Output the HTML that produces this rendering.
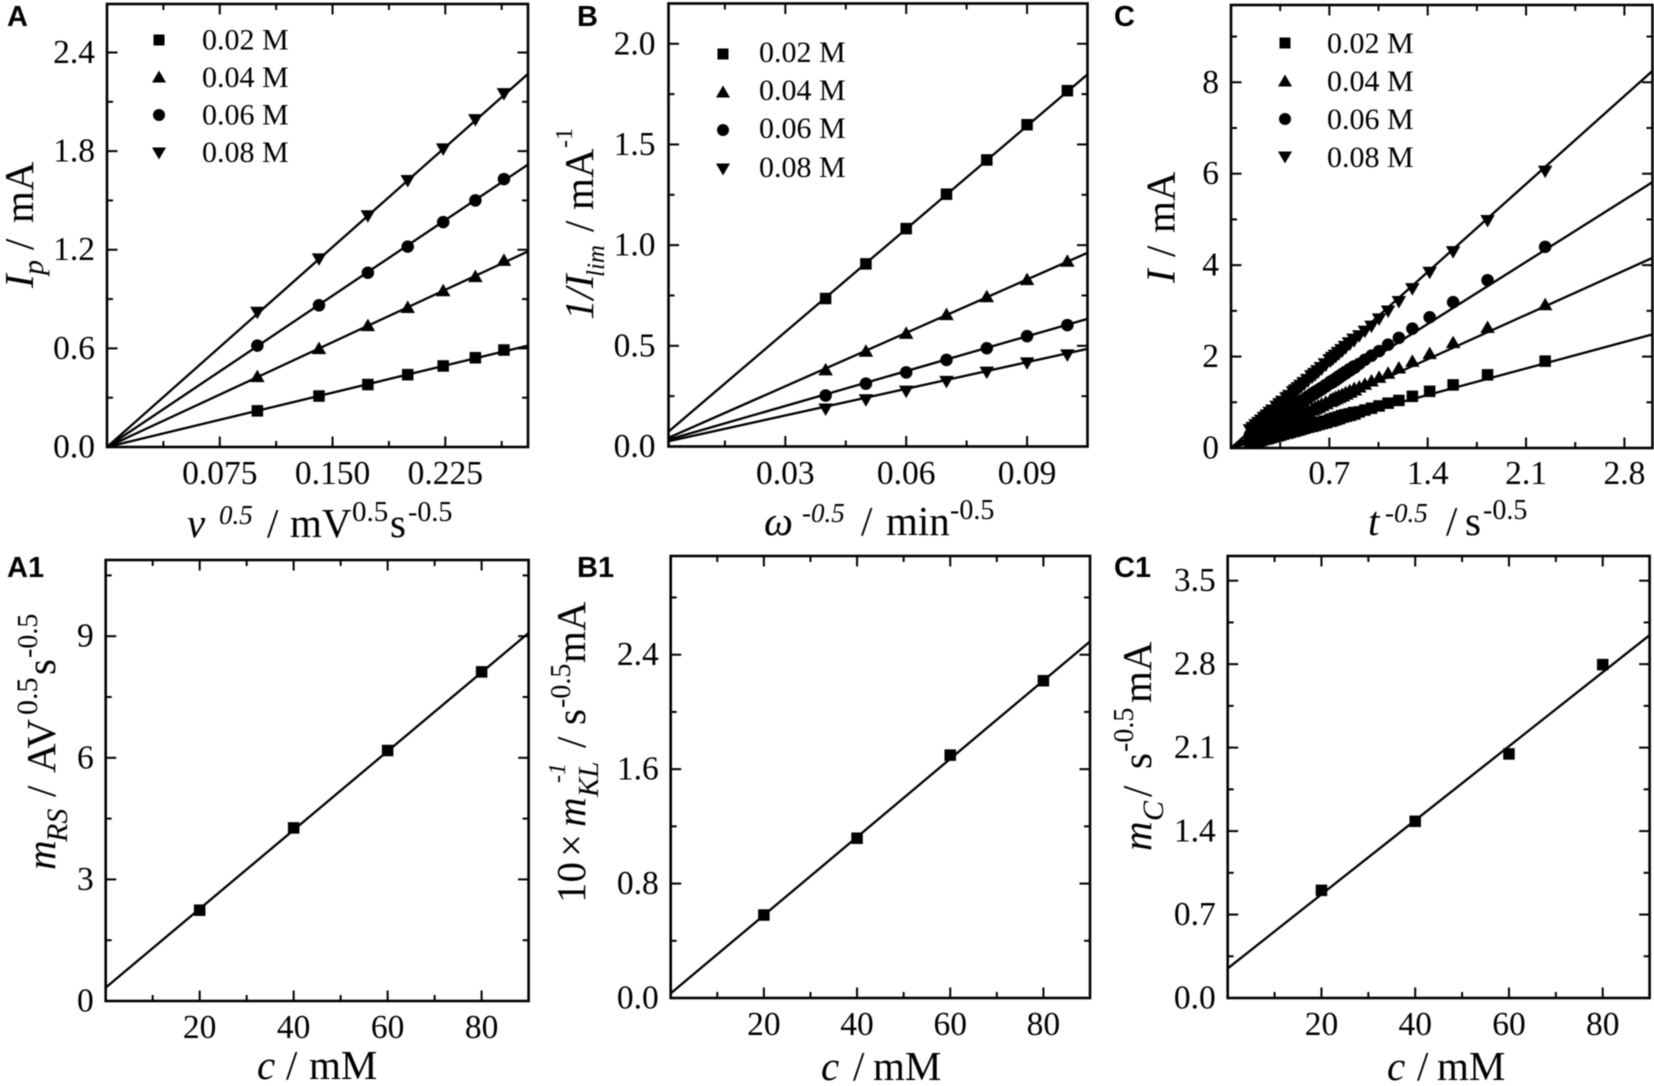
<!DOCTYPE html>
<html lang="en">
<head>
<meta charset="utf-8">
<title>Electrochemical linear fits</title>
<style>
html,body{margin:0;padding:0;background:#fff;width:1654px;height:1086px;overflow:hidden}
svg{display:block;filter:blur(.4px)}
text{font-family:"Liberation Serif",serif;fill:#000;white-space:pre}
.letter{font-family:"Liberation Sans",sans-serif;font-weight:700;font-size:29px}
.leg{font-size:30px}
.ttl{font-size:41px}
.i{font-style:italic}
</style>
</head>
<body>
<svg id="figure" width="1654" height="1086" viewBox="0 0 1654 1086" xmlns="http://www.w3.org/2000/svg">
  <rect width="1654" height="1086" fill="#fff"/>

  <text class="letter" x="7" y="26">A</text>
  <text class="letter" x="577" y="26">B</text>
  <text class="letter" x="1114" y="26">C</text>
  <text class="letter" x="7" y="577">A1</text>
  <text class="letter" x="577" y="577">B1</text>
  <text class="letter" x="1114" y="577">C1</text>

  <g>
    <text class="leg" x="202" y="49.5">0.02 M</text>
    <text class="leg" x="202" y="87">0.04 M</text>
    <text class="leg" x="202" y="124.5">0.06 M</text>
    <text class="leg" x="202" y="162">0.08 M</text>
  </g>
  <g>
    <text class="leg" x="759" y="62">0.02 M</text>
    <text class="leg" x="759" y="100">0.04 M</text>
    <text class="leg" x="759" y="138">0.06 M</text>
    <text class="leg" x="759" y="177">0.08 M</text>
  </g>
  <g>
    <text class="leg" x="1327" y="53">0.02 M</text>
    <text class="leg" x="1327" y="91">0.04 M</text>
    <text class="leg" x="1327" y="129">0.06 M</text>
    <text class="leg" x="1327" y="167">0.08 M</text>
  </g>

  <text class="ttl" y="537"><tspan class="i" x="187">ν</tspan><tspan class="i" font-size="27" x="219" dy="-13">0.5</tspan><tspan x="267" dy="13">/</tspan><tspan x="290">mV</tspan><tspan font-size="29" x="352" dy="-16">0.5</tspan><tspan x="390" dy="16">s</tspan><tspan font-size="28" x="408" dy="-16">-0.5</tspan></text>
  <text class="ttl" y="535"><tspan class="i" x="764">ω</tspan><tspan class="i" font-size="27" x="802" dy="-13">-0.5</tspan><tspan x="861" dy="13">/</tspan><tspan x="886">min</tspan><tspan font-size="28" x="950" dy="-16">-0.5</tspan></text>
  <text class="ttl" y="535"><tspan class="i" x="1368">t</tspan><tspan class="i" font-size="27" x="1385" dy="-13">-0.5</tspan><tspan x="1446" dy="13">/</tspan><tspan x="1465">s</tspan><tspan font-size="28" x="1483" dy="-16">-0.5</tspan></text>
  <text class="ttl" y="1079"><tspan class="i" x="257">c</tspan><tspan x="286">/</tspan><tspan x="309">mM</tspan></text>
  <text class="ttl" y="1080"><tspan class="i" x="821">c</tspan><tspan x="853">/</tspan><tspan x="873">mM</tspan></text>
  <text class="ttl" y="1080"><tspan class="i" x="1387">c</tspan><tspan x="1417">/</tspan><tspan x="1437">mM</tspan></text>

  <text class="ttl" transform="translate(33,288) rotate(-90)"><tspan class="i" x="0">I</tspan><tspan class="i" font-size="30" x="13" dy="10">p</tspan><tspan x="38" dy="-10">/</tspan><tspan x="65">mA</tspan></text>
  <text class="ttl" transform="translate(593,320) rotate(-90)"><tspan class="i" x="0">1/I</tspan><tspan class="i" font-size="25" x="43" dy="11">lim</tspan><tspan x="88" dy="-11">/</tspan><tspan x="110">mA</tspan><tspan font-size="24" x="172" dy="-21">-1</tspan></text>
  <text class="ttl" transform="translate(1174.5,283) rotate(-90)"><tspan class="i" x="0">I</tspan><tspan x="26">/</tspan><tspan x="50">mA</tspan></text>
  <text class="ttl" transform="translate(55,870) rotate(-90)"><tspan class="i" x="0">m</tspan><tspan class="i" font-size="30" x="28" dy="12">RS</tspan><tspan x="73" dy="-12">/</tspan><tspan x="97">AV</tspan><tspan font-size="30" x="155" dy="-18">0.5</tspan><tspan x="195" dy="18">s</tspan><tspan font-size="28" x="212" dy="-18">-0.5</tspan></text>
  <text class="ttl" transform="translate(585,903) rotate(-90)"><tspan x="0">10</tspan><tspan x="46">×</tspan><tspan class="i" x="76">m</tspan><tspan class="i" font-size="29" x="106" dy="13">KL</tspan><tspan class="i" font-size="24" x="120" dy="-33">-1</tspan><tspan x="155" dy="20">/</tspan><tspan x="178">s</tspan><tspan font-size="28" x="195" dy="-15">-0.5</tspan><tspan x="240" dy="15">mA</tspan></text>
  <text class="ttl" transform="translate(1151,851) rotate(-90)"><tspan class="i" x="0">m</tspan><tspan class="i" font-size="30" x="30" dy="12">C</tspan><tspan x="54" dy="-12">/</tspan><tspan x="82">s</tspan><tspan font-size="28" x="99" dy="-18">-0.5</tspan><tspan x="148" dy="18">mA</tspan></text>

  <g id="plots"></g>
</svg>

<script>
// ---- Panel A data ----
const aX = [0.1, 0.141, 0.1735, 0.2, 0.2236, 0.245, 0.264];
const a002 = [0.22, 0.31, 0.38, 0.44, 0.493, 0.543, 0.59];
const a004 = [0.43, 0.60, 0.74, 0.85, 0.952, 1.038, 1.137];
const a006 = [0.617, 0.862, 1.06, 1.219, 1.368, 1.5, 1.63];
const a008 = [0.818, 1.143, 1.405, 1.62, 1.812, 1.99, 2.148];
const aFitStart = [0, 0, 0, 0];
const aFitEnd = [0.617, 1.19, 1.718, 2.27];
const aXTickLabels = ['0.075', '0.150', '0.225'];
const aXMinor = [0.0375, 0.1125, 0.1875, 0.2625];
const aYTickLabels = ['0.0', '0.6', '1.2', '1.8', '2.4'];
const aYMinor = [0.3, 0.9, 1.5, 2.1];

// ---- Panel B data ----
const bX = [0.04, 0.05, 0.06, 0.07, 0.08, 0.09, 0.10];
const b002 = [0.735, 0.907, 1.082, 1.253, 1.423, 1.598, 1.767];
const b004 = [0.382, 0.474, 0.563, 0.656, 0.745, 0.83, 0.921];
const b006 = [0.253, 0.312, 0.368, 0.43, 0.488, 0.548, 0.603];
const b008 = [0.185, 0.231, 0.274, 0.322, 0.368, 0.414, 0.454];
const bFitStart = [0.074, 0.043, 0.034, 0.026];
const bFitEnd = [1.848, 0.962, 0.634, 0.485];
const bXTickLabels = ['0.03', '0.06', '0.09'];
const bXMinor = [0.015, 0.045, 0.075];
const bYTickLabels = ['0.0', '0.5', '1.0', '1.5', '2.0'];
const bYMinor = [0.25, 0.75, 1.25, 1.75];

// ---- Panel C data ----
const cX = [2.236,1.826,1.581,1.414,1.291,1.195,1.118,1.054,1.000,.953,.913,.877,.845,.816,.791,.767,.745,.725,.707,.674,.645,.620,.598,.577,.548,.522,.500,.480,.463,.447,.420,.400,.370,.350,.330,.300,.280,.260,.240,.220,.200,.180,.160,.140];
const c002 = [1.90,1.60,1.38,1.24,1.13,1.04,.98,.92,.87,.83,.79,.76,.73,.71,.69,.66,.64,.62,.60,.57,.55,.53,.51,.49,.47,.45,.43,.41,.40,.38,.36,.34,.32,.30,.28,.26,.24,.22,.21,.19,.17,.15,.14,.12];
const c004 = [3.14,2.64,2.31,2.07,1.90,1.755,1.64,1.55,1.47,1.40,1.34,1.29,1.24,1.20,1.16,1.13,1.10,1.07,1.04,.99,.95,.91,.88,.85,.81,.77,.74,.71,.68,.66,.62,.59,.54,.51,.49,.44,.41,.38,.35,.32,.29,.26,.24,.21];
const c006 = [4.40,3.67,3.19,2.86,2.61,2.41,2.26,2.12,2.02,1.93,1.84,1.77,1.71,1.65,1.60,1.55,1.50,1.46,1.43,1.36,1.30,1.25,1.21,1.17,1.11,1.05,1.01,.97,.94,.90,.85,.81,.75,.71,.67,.61,.57,.53,.48,.44,.40,.36,.32,.28];
const c008 = [6.05,4.97,4.29,3.84,3.48,3.20,2.99,2.82,2.66,2.55,2.45,2.36,2.28,2.20,2.13,2.07,2.01,1.96,1.91,1.82,1.74,1.67,1.61,1.56,1.48,1.41,1.35,1.30,1.25,1.21,1.13,1.08,1.00,.95,.89,.81,.76,.70,.65,.59,.54,.49,.43,.38];
const cFitStart = [0, 0, 0, 0];
const cFitEnd = [2.486, 4.16, 5.815, 8.25];
const cXTickLabels = ['0.7', '1.4', '2.1', '2.8'];
const cXMinor = [0.35, 1.05, 1.75, 2.45];
const cYTickLabels = ['0', '2', '4', '6', '8'];
const cYMinor = [1, 3, 5, 7, 9];

// ---- Lower row data ----
const concentration = [20, 40, 60, 80];
const concTickLabels = ['20', '40', '60', '80'];
const concMinor = [10, 30, 50, 70];

const a1Values = [2.24, 4.27, 6.18, 8.12];
const a1FitStart = [0.33];
const a1FitEnd = [9.08];
const a1YTickLabels = ['0', '3', '6', '9'];
const a1YMinor = [1.5, 4.5, 7.5, 10.5];

const b1Values = [0.58, 1.117, 1.698, 2.218];
const b1FitStart = [0.032];
const b1FitEnd = [2.492];
const b1YTickLabels = ['0.0', '0.8', '1.6', '2.4'];
const b1YMinor = [0.4, 1.2, 2.0, 2.8];

const c1Values = [0.903, 1.482, 2.047, 2.796];
const c1FitStart = [0.248];
const c1FitEnd = [3.043];
const c1YTickLabels = ['0.0', '0.7', '1.4', '2.1', '2.8', '3.5'];
const c1YMinor = [0.35, 1.05, 1.75, 2.45, 3.15];

const NS = 'http://www.w3.org/2000/svg';
const plots = document.getElementById('plots');

function make(tag, attrs, parent) {
  const el = document.createElementNS(NS, tag);
  for (const k in attrs) el.setAttribute(k, attrs[k]);
  parent.appendChild(el);
  return el;
}

function marker(kind, cx, cy, size, parent) {
  const h = size / 2;
  let el;
  if (kind === 0) {
    el = make('rect', {x: cx - h, y: cy - h, width: size, height: size, fill: '#000'}, parent);
  } else if (kind === 1) {
    el = make('polygon', {points: [cx, cy - h - 1, cx + h + 1.5, cy + h, cx - h - 1.5, cy + h].join(' '), fill: '#000'}, parent);
  } else if (kind === 2) {
    el = make('circle', {cx: cx, cy: cy, r: h + 0.5, fill: '#000'}, parent);
  } else {
    el = make('polygon', {points: [cx, cy + h + 1, cx + h + 1.5, cy - h, cx - h - 1.5, cy - h].join(' '), fill: '#000'}, parent);
  }
  return el;
}

function drawPanel(p) {
  const g = make('g', {}, plots);
  
  

  const sx = v => p.left + (v - p.xMin) / (p.xMax - p.xMin) * (p.right - p.left);
  const sy = v => p.bottom - (v - p.yMin) / (p.yMax - p.yMin) * (p.bottom - p.top);

  function tickX(v, len) {
    [[p.bottom, p.bottom - len], [p.top, p.top + len]].forEach(function (s) {
      const t = make('line', {x1: sx(v), x2: sx(v), y1: s[0], y2: s[1], stroke: '#000', 'stroke-width': 2}, g);
      
      
    });
  }
  function tickY(v, len) {
    [[p.left, p.left + len], [p.right, p.right - len]].forEach(function (s) {
      const t = make('line', {y1: sy(v), y2: sy(v), x1: s[0], x2: s[1], stroke: '#000', 'stroke-width': 2}, g);
      
      
    });
  }

  p.xMinor.forEach(v => tickX(v, 6));
  p.yMinor.forEach(v => tickY(v, 6));
  p.xLabels.forEach(function (s) {
    tickX(parseFloat(s), 10.5);
    const t = make('text', {x: sx(parseFloat(s)), y: p.xLabelY, 'text-anchor': 'middle', 'font-size': 33.5}, g);
    t.textContent = s;
    
    
  });
  p.yLabels.forEach(function (s) {
    tickY(parseFloat(s), 10.5);
    const t = make('text', {x: p.left - p.labelGap, y: sy(parseFloat(s)) + 10.5, 'text-anchor': 'end', 'font-size': 33.5}, g);
    t.textContent = s;
    
    
  });

  p.fitStart.forEach(function (v, i) {
    const l = make('line', {x1: sx(p.xMin), y1: sy(v), x2: sx(p.xMax), y2: sy(p.fitEnd[i]), stroke: '#000', 'stroke-width': 2.3}, g);
    
    
  });

  p.series.forEach(function (vals, k) {
    vals.forEach(function (v, i) {
      const crowded = p.crowdedBelow && p.x[i] < p.crowdedBelow;
      const m = marker(k, sx(p.x[i]), sy(v), crowded ? p.crowdedSize : p.size, g);
      
      
    });
  });

  const frame = make('rect', {x: p.left, y: p.top, width: p.right - p.left, height: p.bottom - p.top, fill: 'none', stroke: '#000', 'stroke-width': 2.6}, g);
  
  

  if (p.legendX) {
    p.legendY.forEach(function (y, k) {
      const m = marker(k, p.legendX, y, 11, g);
      
      
    });
  }
}

drawPanel({id: 'a', left: 107, right: 528, top: 4, bottom: 447, xMin: 0, xMax: 0.28, yMin: 0, yMax: 2.695, labelGap: 12,
  x: aX, series: [a002, a004, a006, a008], fitStart: aFitStart, fitEnd: aFitEnd,
  xLabels: aXTickLabels, xMinor: aXMinor, yLabels: aYTickLabels, yMinor: aYMinor, xLabelY: 484, size: 11.5,
  legendX: 159, legendY: [40, 77, 115, 153]});
drawPanel({id: 'b', left: 668.5, right: 1087.5, top: 3.5, bottom: 446.5, xMin: 0.001, xMax: 0.105, yMin: 0, yMax: 2.2, labelGap: 13,
  x: bX, series: [b002, b004, b006, b008], fitStart: bFitStart, fitEnd: bFitEnd,
  xLabels: bXTickLabels, xMinor: bXMinor, yLabels: bYTickLabels, yMinor: bYMinor, xLabelY: 484, size: 11.5,
  legendX: 723, legendY: [54, 92, 130, 169]});
drawPanel({id: 'c', left: 1231, right: 1652.5, top: 5, bottom: 448, xMin: 0, xMax: 3.0, yMin: 0, yMax: 9.69, labelGap: 12,
  x: cX, series: [c002, c004, c006, c008], fitStart: cFitStart, fitEnd: cFitEnd,
  xLabels: cXTickLabels, xMinor: cXMinor, yLabels: cYTickLabels, yMinor: cYMinor, xLabelY: 484, size: 11.5,
  crowdedBelow: 0.9, crowdedSize: 13,
  legendX: 1285, legendY: [43, 81, 119, 157]});
drawPanel({id: 'a1', left: 105.7, right: 528.6, top: 560, bottom: 1001, xMin: 0, xMax: 90, yMin: 0, yMax: 10.88, labelGap: 12,
  x: concentration, series: [a1Values], fitStart: a1FitStart, fitEnd: a1FitEnd,
  xLabels: concTickLabels, xMinor: concMinor, yLabels: a1YTickLabels, yMinor: a1YMinor, xLabelY: 1038, size: 11.5});
drawPanel({id: 'b1', left: 670.7, right: 1090, top: 556, bottom: 998, xMin: 0, xMax: 90, yMin: 0, yMax: 3.09, labelGap: 12,
  x: concentration, series: [b1Values], fitStart: b1FitStart, fitEnd: b1FitEnd,
  xLabels: concTickLabels, xMinor: concMinor, yLabels: b1YTickLabels, yMinor: b1YMinor, xLabelY: 1035, size: 11.5});
drawPanel({id: 'c1', left: 1227.7, right: 1649.6, top: 556, bottom: 998, xMin: 0, xMax: 90, yMin: 0, yMax: 3.707, labelGap: 12,
  x: concentration, series: [c1Values], fitStart: c1FitStart, fitEnd: c1FitEnd,
  xLabels: concTickLabels, xMinor: concMinor, yLabels: c1YTickLabels, yMinor: c1YMinor, xLabelY: 1035, size: 11.5});
</script>
</body>
</html>
